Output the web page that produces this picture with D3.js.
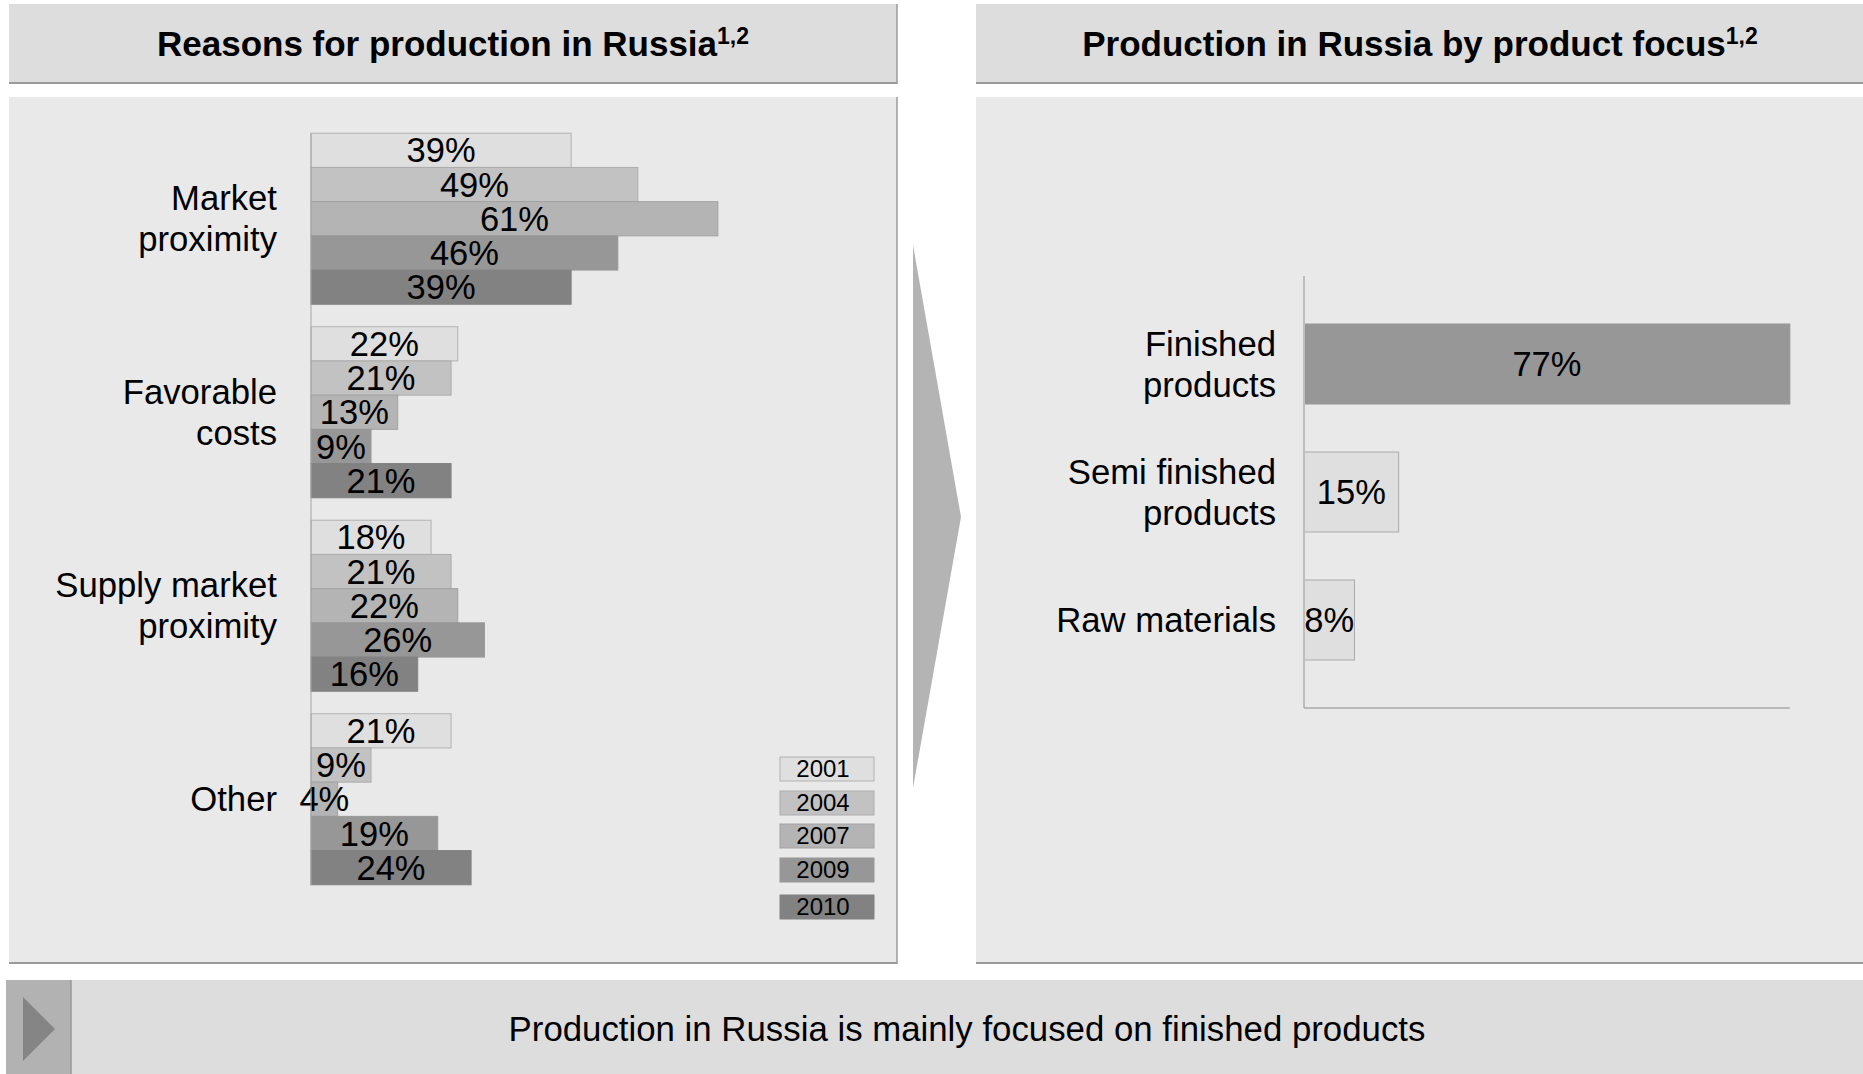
<!DOCTYPE html>
<html>
<head>
<meta charset="utf-8">
<script src="https://cdn.jsdelivr.net/npm/d3@7"></script>
<style>
  html, body { margin: 0; padding: 0; background: #ffffff; }
  svg { display: block; }
  text { font-family: "Liberation Sans", Arial, sans-serif; fill: #000; }
</style>
</head>
<body>
<svg id="chart" width="1863" height="1074"></svg>
<script>
// ---------------- data ----------------
const reasonCategories = ["Market proximity", "Favorable costs", "Supply market proximity", "Other"];
const reasonLabelLines = [["Market", "proximity"], ["Favorable", "costs"], ["Supply market", "proximity"], ["Other"]];
const years = ["2001", "2004", "2007", "2009", "2010"];
const values2001 = [39, 22, 18, 21];
const values2004 = [49, 21, 21, 9];
const values2007 = [61, 13, 22, 4];
const values2009 = [46, 9, 26, 19];
const values2010 = [39, 21, 16, 24];
const yearColors = ["#dfdfdf", "#c2c2c2", "#b4b4b4", "#979797", "#828282"];
const yearStrokes = ["#b2b2b2", "#acacac", "#a2a2a2", "#979797", "#828282"];

const productCategories = ["Finished products", "Semi finished products", "Raw materials"];
const productLabelLines = [["Finished", "products"], ["Semi finished", "products"], ["Raw materials"]];
const productShares = [77, 15, 8];
const productColors = ["#979797", "#dfdfdf", "#dfdfdf"];
const productStrokes = ["#979797", "#aaaaaa", "#aaaaaa"];

const leftTitle = "Reasons for production in Russia";
const rightTitle = "Production in Russia by product focus";
const footnoteMark = "1,2";
const conclusion = "Production in Russia is mainly focused on finished products";

const seriesByYear = [values2001, values2004, values2007, values2009, values2010];

// ---------------- drawing ----------------
const svg = d3.select("#chart");

// Header boxes
function header(x, w, title) {
  svg.append("rect").attr("x", x).attr("y", 4).attr("width", w).attr("height", 79).attr("fill", "#dddddd");
  svg.append("line").attr("x1", x).attr("x2", x + w).attr("y1", 83).attr("y2", 83)
    .attr("stroke", "#9a9a9a").attr("stroke-width", 2);
  svg.append("line").attr("x1", x + w).attr("x2", x + w).attr("y1", 4).attr("y2", 84)
    .attr("stroke", "#9a9a9a").attr("stroke-width", 1.5);
  const t = svg.append("text").attr("x", x + w / 2).attr("y", 56).attr("text-anchor", "middle")
    .style("font-size", "35px").style("font-weight", "bold");
  t.append("tspan").text(title);
  t.append("tspan").text(footnoteMark).style("font-size", "23px").attr("dy", -12);
}
header(9, 888, leftTitle);
header(976, 888, rightTitle);

// Panels
function panel(x, w) {
  svg.append("rect").attr("x", x).attr("y", 97).attr("width", w).attr("height", 866).attr("fill", "#e9e9e9");
  svg.append("line").attr("x1", x).attr("x2", x + w).attr("y1", 963).attr("y2", 963)
    .attr("stroke", "#9a9a9a").attr("stroke-width", 2);
  svg.append("line").attr("x1", x + w).attr("x2", x + w).attr("y1", 97).attr("y2", 964)
    .attr("stroke", "#9a9a9a").attr("stroke-width", 1.5);
}
panel(9, 888);
panel(976, 900);

// Big arrow between panels
svg.append("path")
  .attr("d", d3.line()([[913, 245], [961, 517], [913, 788]]) + "Z")
  .attr("fill", "#b4b4b4");

// ---------- Left chart: grouped horizontal bars ----------
const xL = d3.scaleLinear().domain([0, 100]).range([311, 978]);
const yGroup = d3.scaleBand().domain(reasonCategories).range([122, 896]).paddingInner(0.116).paddingOuter(0.058);
const yYear = d3.scaleBand().domain(years).range([0, yGroup.bandwidth()]);

const left = svg.append("g");
reasonCategories.forEach((cat, ci) => {
  const g = left.append("g").attr("transform", `translate(0,${yGroup(cat)})`);
  years.forEach((yr, yi) => {
    const v = seriesByYear[yi][ci];
    g.append("rect")
      .attr("x", xL(0)).attr("y", yYear(yr))
      .attr("width", xL(v) - xL(0)).attr("height", yYear.bandwidth())
      .attr("fill", yearColors[yi]).attr("stroke", yearStrokes[yi]).attr("stroke-width", 1);
    g.append("text")
      .attr("x", (xL(0) + xL(v)) / 2).attr("y", yYear(yr) + yYear.bandwidth() / 2)
      .attr("dy", "0.35em").attr("text-anchor", "middle")
      .style("font-size", "34.5px").text(v + "%");
  });
  // category label
  const lines = reasonLabelLines[ci];
  const cy = yGroup(cat) + yGroup.bandwidth() / 2;
  const lh = 41;
  const t = left.append("text").attr("text-anchor", "end").style("font-size", "34.7px");
  lines.forEach((ln, li) => {
    t.append("tspan").attr("x", 277)
      .attr("y", cy + 12 + (li - (lines.length - 1) / 2) * lh).text(ln);
  });
});
// left axis line
left.append("line").attr("x1", xL(0)).attr("x2", xL(0))
  .attr("y1", yGroup.range()[0] + 11).attr("y2", yGroup.range()[1] - 11)
  .attr("stroke", "#a6a6a6").attr("stroke-width", 1);

// Legend
const legendY = [757, 791, 824, 858, 895];
const legend = svg.append("g");
years.forEach((yr, i) => {
  legend.append("rect").attr("x", 780).attr("y", legendY[i]).attr("width", 94).attr("height", 24)
    .attr("fill", yearColors[i]).attr("stroke", yearStrokes[i]).attr("stroke-width", 1);
  legend.append("text").attr("x", 823).attr("y", legendY[i] + 12).attr("dy", "0.35em")
    .attr("text-anchor", "middle").style("font-size", "24px").text(yr);
});

// ---------- Right chart ----------
const xR = d3.scaleLinear().domain([0, 100]).range([1304, 1935]);
const yR = d3.scaleBand().domain(productCategories).range([276, 708]).padding(0.375);
const right = svg.append("g");
productCategories.forEach((cat, i) => {
  const v = productShares[i];
  right.append("rect")
    .attr("x", xR(0)).attr("y", yR(cat))
    .attr("width", xR(v) - xR(0)).attr("height", yR.bandwidth())
    .attr("fill", productColors[i]).attr("stroke", productStrokes[i]).attr("stroke-width", 1);
  right.append("text")
    .attr("x", (xR(0) + xR(v)) / 2).attr("y", yR(cat) + yR.bandwidth() / 2)
    .attr("dy", "0.35em").attr("text-anchor", "middle")
    .style("font-size", "34.5px").text(v + "%");
  const lines = productLabelLines[i];
  const cy = yR(cat) + yR.bandwidth() / 2;
  const t = right.append("text").attr("text-anchor", "end").style("font-size", "34.7px");
  lines.forEach((ln, li) => {
    t.append("tspan").attr("x", 1276)
      .attr("y", cy + 12 + (li - (lines.length - 1) / 2) * 41).text(ln);
  });
});
right.append("line").attr("x1", xR(0)).attr("x2", xR(0)).attr("y1", 276).attr("y2", 708)
  .attr("stroke", "#bdbdbd").attr("stroke-width", 2);
right.append("line").attr("x1", xR(0)).attr("x2", xR(77)).attr("y1", 708).attr("y2", 708)
  .attr("stroke", "#a8a8a8").attr("stroke-width", 1.5);

// ---------- Bottom conclusion bar ----------
svg.append("rect").attr("x", 6).attr("y", 980).attr("width", 1857).attr("height", 94).attr("fill", "#dddddd");
svg.append("rect").attr("x", 6).attr("y", 980).attr("width", 65).attr("height", 94).attr("fill", "#b2b2b2");
svg.append("line").attr("x1", 71).attr("x2", 71).attr("y1", 980).attr("y2", 1074)
  .attr("stroke", "#999999").attr("stroke-width", 1.5);
svg.append("path").attr("d", d3.line()([[23, 997], [55, 1029], [23, 1061]]) + "Z").attr("fill", "#858585");
svg.append("text").attr("x", 967).attr("y", 1029).attr("dy", "0.35em").attr("text-anchor", "middle")
  .style("font-size", "34.8px").text(conclusion);
</script>
</body>
</html>
